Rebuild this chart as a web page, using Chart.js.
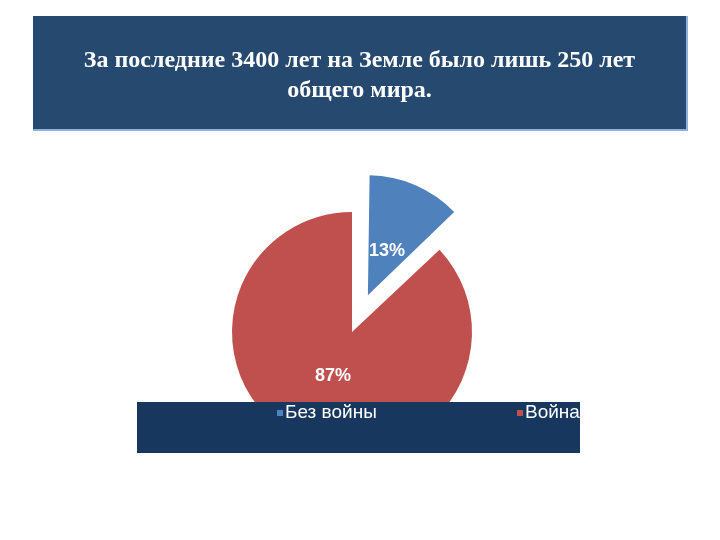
<!DOCTYPE html>
<html>
<head>
<meta charset="utf-8">
<script src="https://cdn.jsdelivr.net/npm/chart.js@4"></script>
<style>
  html, body { margin: 0; padding: 0; background: #ffffff; overflow: hidden; }
  #wrap { position: relative; width: 720px; height: 540px; }
</style>
</head>
<body>
<div id="wrap"><canvas id="c"></canvas></div>
<script>
// ---- data ----
const titleLines = ['За последние 3400 лет на Земле было лишь 250 лет', 'общего мира.'];
const categories = ['Без войны', 'Война'];
const shares = [13, 87];
const sliceColors = ['#4f81bd', '#c0504d'];
const explode = [160, 0];

// ---- plugins ----
const titleBox = {
  id: 'titleBox',
  beforeDraw(chart, args, opts) {
    const ctx = chart.ctx;
    ctx.save();
    ctx.fillStyle = '#8fb0dc';
    ctx.fillRect(opts.x, opts.y, opts.w + 2, opts.h + 2);
    ctx.fillStyle = '#264a6f';
    ctx.fillRect(opts.x, opts.y, opts.w, opts.h);
    ctx.fillStyle = '#ffffff';
    ctx.font = 'bold 24px "Liberation Serif", "Times New Roman", serif';
    ctx.textAlign = 'center';
    ctx.textBaseline = 'alphabetic';
    const cx = opts.x + opts.w / 2;
    titleLines.forEach((t, i) => ctx.fillText(t, cx, opts.y + opts.baseline + i * opts.lineHeight));
    ctx.restore();
  }
};

// keep the exploded slice at the same radius as the others
const keepRadius = {
  id: 'keepRadius',
  afterDatasetUpdate(chart, args) {
    args.meta.data.forEach(arc => {
      const off = (arc.options.offset || 0) / 4;
      if (!off) return;
      const fix = 1 - Math.sin(Math.min(Math.PI, arc.circumference || 0));
      arc.outerRadius = arc.outerRadius - off * fix;
    });
  }
};

const sliceLabels = {
  id: 'sliceLabels',
  afterDatasetsDraw(chart) {
    const ctx = chart.ctx;
    const meta = chart.getDatasetMeta(0);
    const data = chart.data.datasets[0].data;
    const total = data.reduce((a, b) => a + b, 0);
    const baseR = Math.max(...meta.data.map(a => (a.options.offset ? 0 : a.outerRadius)));
    ctx.save();
    ctx.fillStyle = '#ffffff';
    ctx.font = 'bold 18px "Liberation Sans", Arial, sans-serif';
    ctx.textAlign = 'center';
    ctx.textBaseline = 'middle';
    meta.data.forEach((arc, i) => {
      const mid = (arc.startAngle + arc.endAngle) / 2;
      const off = (arc.options.offset || 0) / 4;
      const d = off + baseR * 0.4;
      const x = arc.x + Math.cos(mid) * d;
      const y = arc.y + Math.sin(mid) * d;
      ctx.fillText(Math.round(data[i] / total * 100) + '%', x, y);
    });
    ctx.restore();
  }
};

const boxLegend = {
  id: 'boxLegend',
  afterDraw(chart, args, opts) {
    const ctx = chart.ctx;
    ctx.save();
    ctx.fillStyle = '#17375e';
    ctx.fillRect(opts.x, opts.y, opts.w, opts.h);
    ctx.beginPath();
    ctx.rect(opts.x, opts.y, opts.w, opts.h);
    ctx.clip();
    ctx.font = '19px "Liberation Sans", Arial, sans-serif';
    ctx.textBaseline = 'middle';
    ctx.textAlign = 'left';
    const ds = chart.data.datasets[0];
    chart.data.labels.forEach((lab, i) => {
      const ix = opts.x + opts.itemX[i];
      const iy = opts.y + opts.itemY;
      ctx.fillStyle = ds.backgroundColor[i];
      ctx.fillRect(ix, iy - 3, 6, 6);
      ctx.fillStyle = '#ffffff';
      ctx.fillText(lab, ix + 8, iy);
    });
    ctx.restore();
  }
};

new Chart(document.getElementById('c'), {
  type: 'pie',
  data: {
    labels: categories,
    datasets: [{
      data: shares,
      backgroundColor: sliceColors,
      borderWidth: 0,
      offset: explode,
      hoverOffset: 0
    }]
  },
  options: {
    responsive: true,
    maintainAspectRatio: false,
    animation: false,
    radius: 120,
    layout: { padding: { top: 124, bottom: 0, left: 0, right: 16 } },
    events: [],
    plugins: {
      legend: { display: false },
      title: { display: false },
      tooltip: { enabled: false },
      titleBox: { x: 33, y: 16, w: 653, h: 113, baseline: 51, lineHeight: 30 },
      boxLegend: { x: 137, y: 402, w: 443, h: 51, itemX: [140, 380], itemY: 11 }
    }
  },
  plugins: [keepRadius, titleBox, sliceLabels, boxLegend]
});
</script>
</body>
</html>
